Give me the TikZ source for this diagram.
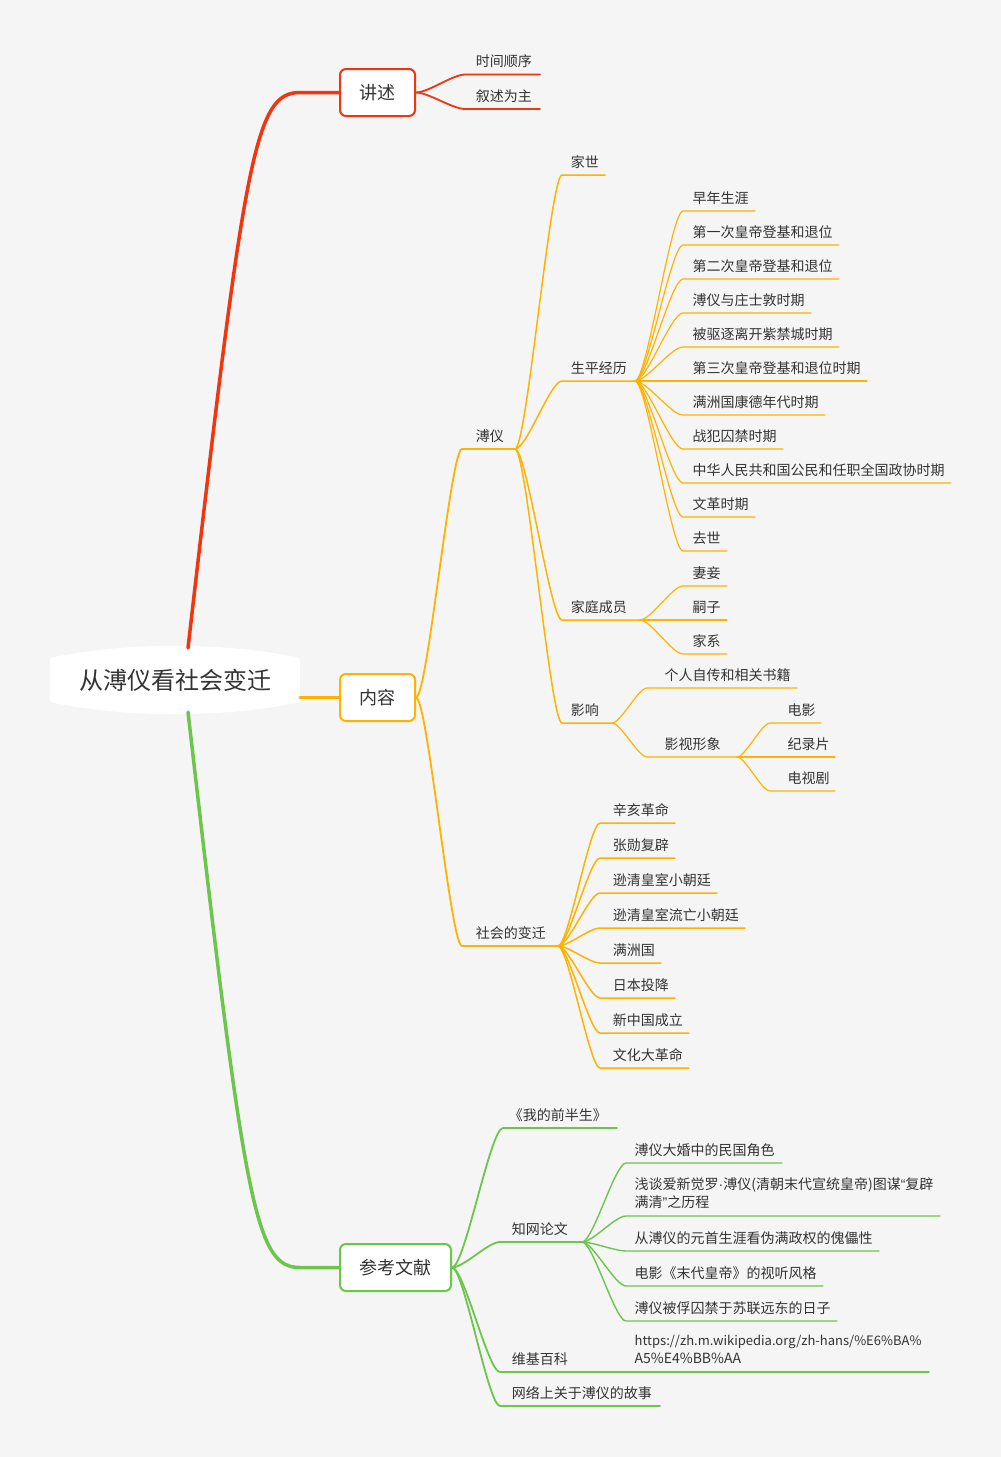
\documentclass[tikz,border=0pt]{standalone}
\usepackage{fontspec}
\setmainfont{Noto Sans CJK SC}
\newfontfamily\narrowpunct{Liberation Sans}
\usepackage{tikz}
\usetikzlibrary{calc}
\definecolor{paper}{HTML}{F5F5F5}
\definecolor{ink}{HTML}{333333}
\definecolor{brred}{HTML}{F0350F}
\definecolor{brgold}{HTML}{FFB300}
\definecolor{brgreen}{HTML}{6CC64C}

\begin{document}
\begin{tikzpicture}[x=1pt,y=-1pt,
  leaf/.style={font=\fontsize{14}{17.5}\selectfont,text=ink,inner sep=0pt,
    anchor=base west,align=left},
  box/.style={draw=#1,fill=white,line width=2pt,rounded corners=6pt,
    minimum height=47,inner sep=0pt,text=ink,font=\fontsize{18}{20}\selectfont},
  main/.style={line width=3.5pt,line cap=round},
  link/.style={line cap=round,
    to path={.. controls ($(\tikztostart)!0.25!(\tikztostart -| \tikztotarget)$)
      and ($(\tikztotarget)!0.25!(\tikztotarget -| \tikztostart)$) .. (\tikztotarget)}}]
  \useasboundingbox (0,0) rectangle (1001,1457);
  \fill[paper] (0,0) rectangle (1001,1457);

  % one underlined topic: [baseline lift]{name}{from}{x0}{y}{x1}{text x}{text}
  \newcommand{\topic}[8][8]{%
    \coordinate (#2-l) at (#4,#5);
    \coordinate (#2-r) at (#6,#5);
    \node[leaf] (#2) at (#7,#5-#1) {#8};
    \draw[link] (#3) to (#2-l) -- (#2-r);
  }

  % central topic
  \fill[white] (50,662) .. controls (50,658) and (51,657.5) .. (54,657)
    .. controls (130,642) and (220,642) .. (296,657)
    .. controls (299,657.5) and (300,658) .. (300,662) -- (300,698)
    .. controls (300,702) and (299,702.5) .. (296,703)
    .. controls (220,718) and (130,718) .. (54,703)
    .. controls (51,702.5) and (50,702) .. (50,698) -- cycle;
  \node[text=ink,font=\fontsize{24}{28}\selectfont] (root) at (175,680) {从溥仪看社会变迁};
  \coordinate (root-n) at (188,648);
  \coordinate (root-e) at (300,697.5);
  \coordinate (root-s) at (188,712);

  \node[box=brred,minimum width=75] (narrate) at (377.5,92.5) {讲述};
  \node[box=brgold,minimum width=75] (content) at (377.5,697.5) {内容};
  \node[box=brgreen,minimum width=111] (refs) at (395.5,1267.5) {参考文献};

  \coordinate (red-bend) at (300,92.5);
  \coordinate (green-bend) at (300,1267.5);
  \draw[main,brred] (root-n) .. controls +(57,-496) and +(-45,0) .. (red-bend)
    -- (narrate.west);
  \draw[main,brgold] (root-e) -- (content.west);
  \draw[main,brgreen] (root-s) .. controls +(57,496) and +(-45,0) .. (green-bend)
    -- (refs.west);

  % narration
  \begin{scope}[brred,line width=1.8pt]
    \topic{order}{narrate.east}{465}{74.5}{540}{475}{时间顺序}
    \topic{mode}{narrate.east}{465}{109}{540}{475}{叙述为主}
  \end{scope}

  % content
  \begin{scope}[brgold,line width=1.8pt]
    \topic{puyi}{content.east}{462}{449}{515}{475}{溥仪}
    \topic{change}{content.east}{462}{946}{558}{475}{社会的变迁}
  \end{scope}
  \begin{scope}[brgold,line width=1.5pt]
    \topic{family}{puyi-r}{562}{175}{605}{570}{家世}
    \topic{life}{puyi-r}{562}{381}{635}{570}{生平经历}
    \topic{members}{puyi-r}{562}{620}{640}{570}{家庭成员}
    \topic{impact}{puyi-r}{562}{723}{612}{570}{影响}
    \foreach \txt/\yy/\xe [count=\i] in {辛亥革命/823/675,张勋复辟/858/675,
        逊清皇室小朝廷/893/717,逊清皇室流亡小朝廷/928/745,满洲国/963/661,
        日本投降/998/675,新中国成立/1033/689,文化大革命/1068/689}{
      \topic{change\i}{change-r}{600}{\yy}{\xe}{612}{\txt}
    }
  \end{scope}
  \begin{scope}[brgold,line width=1.2pt]
    \foreach \txt/\yy/\xe [count=\i] in {早年生涯/211/755,
        第一次皇帝登基和退位/245/839,第二次皇帝登基和退位/279/839,
        溥仪与庄士敦时期/313/811,被驱逐离开紫禁城时期/347/839,
        第三次皇帝登基和退位时期/381/867,满洲国康德年代时期/415/825,
        战犯囚禁时期/449/783,中华人民共和国公民和任职全国政协时期/483/951,
        文革时期/517/755,去世/551/727}{
      \topic{life\i}{life-r}{683}{\yy}{\xe}{692}{\txt}
    }
    \foreach \txt/\yy [count=\i] in {妻妾/586,嗣子/620,家系/654}{
      \topic{members\i}{members-r}{683}{\yy}{727}{692}{\txt}
    }
    \topic{books}{impact-r}{647}{688}{797}{664}{个人自传和相关书籍}
    \topic{media}{impact-r}{647}{757}{737}{664}{影视形象}
    \foreach \txt/\yy/\xe [count=\i] in {电影/723/821,纪录片/757/835,电视剧/791/835}{
      \topic{media\i}{media-r}{770}{\yy}{\xe}{787}{\txt}
    }
  \end{scope}

  % references
  \begin{scope}[brgreen,line width=1.8pt]
    \topic{memoir}{refs.east}{503}{1128}{617}{508}{《我的前半生》}
    \topic{cnki}{refs.east}{500}{1242}{582}{511}{知网论文}
    \topic{wiki}{refs.east}{500}{1372}{626}{511}{维基百科}
    \topic{stories}{refs.east}{500}{1406}{660}{511}{网络上关于溥仪的故事}
  \end{scope}
  \begin{scope}[brgreen,line width=1.4pt]
    \topic{cnki1}{cnki-r}{626}{1163}{782}{634}{溥仪大婚中的民国角色}
    \topic[9]{cnki2}{cnki-r}{626}{1216}{940}{634}{浅谈爱新觉罗{\narrowpunct ·}溥仪(清朝末代宣统皇帝)图谋{\narrowpunct “}复辟\\满清{\narrowpunct ”}之历程}
    \topic{cnki3}{cnki-r}{626}{1251}{879}{634}{从溥仪的元首生涯看伪满政权的傀儡性}
    \topic{cnki4}{cnki-r}{626}{1286}{823}{634}{电影《末代皇帝》的视听风格}
    \topic{cnki5}{cnki-r}{626}{1321}{837}{634}{溥仪被俘囚禁于苏联远东的日子}
    \topic[9]{url}{wiki-r}{626}{1372}{929}{634}{\fontsize{13}{17.5}\selectfont https://zh.m.wikipedia.org/zh-hans/\%E6\%BA\%\\A5\%E4\%BB\%AA}
  \end{scope}
\end{tikzpicture}
\end{document}
